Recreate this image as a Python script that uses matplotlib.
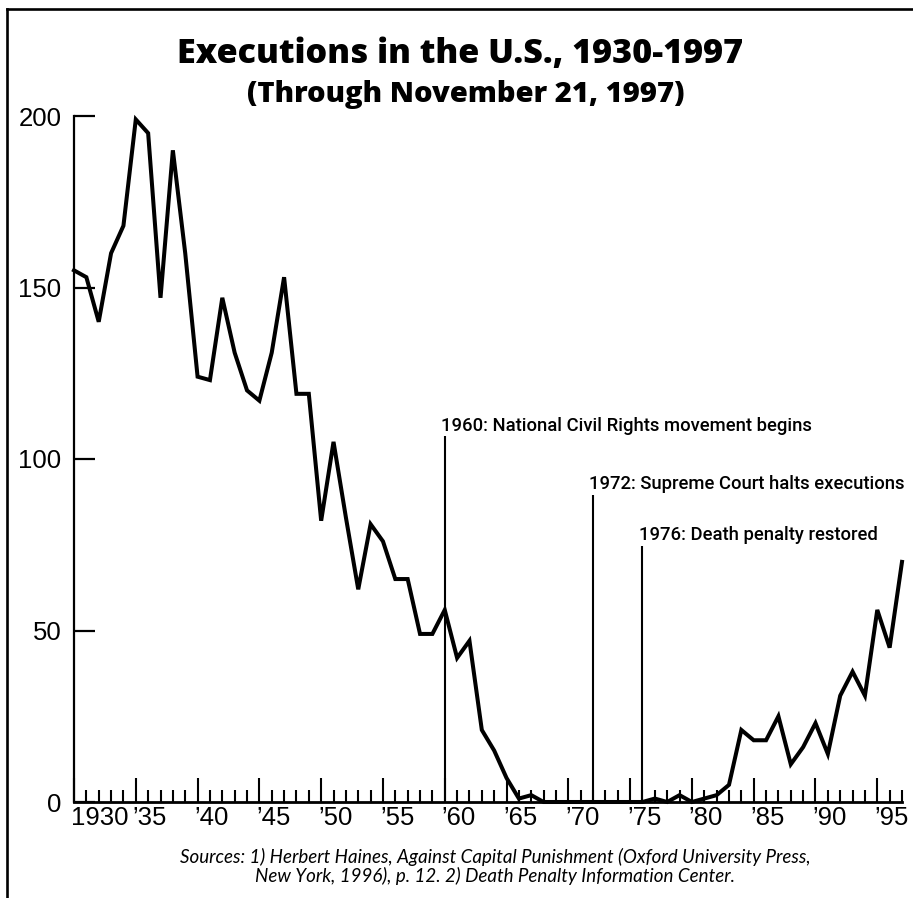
import matplotlib
matplotlib.use("Agg")
import matplotlib.pyplot as plt
import matplotlib.transforms as mtransforms
from matplotlib.lines import Line2D
from matplotlib.ticker import MultipleLocator

# ---------------- data ----------------
years = list(range(1930, 1998))
executions = [155, 153, 140, 160, 168, 199, 195, 147, 190, 160,
              124, 123, 147, 131, 120, 117, 131, 153, 119, 119,
              82, 105, 83, 62, 81, 76, 65, 65, 49, 49,
              56, 42, 47, 21, 15, 7, 1, 2, 0, 0,
              0, 0, 0, 0, 0, 0, 0, 1, 0, 2,
              0, 1, 2, 5, 21, 18, 18, 25, 11, 16,
              23, 14, 31, 38, 31, 56, 45, 70]

xtick_years = [1930, 1935, 1940, 1945, 1950, 1955, 1960, 1965, 1970,
               1975, 1980, 1985, 1990, 1995]
xtick_labels = ["1930", "\u201935", "\u201940", "\u201945", "\u201950", "\u201955",
                "\u201960", "\u201965", "\u201970", "\u201975", "\u201980",
                "\u201985", "\u201990", "\u201995"]
ytick_values = [0, 50, 100, 150, 200]
ytick_labels = ["0", "50", "100", "150", "200"]

event_years = [1960, 1972, 1976]
event_labels = ["1960: National Civil Rights movement begins",
                "1972: Supreme Court halts executions",
                "1976: Death penalty restored"]

title = "Executions in the U.S., 1930-1997"
subtitle = "(Through November 21, 1997)"
source_lines = ["Sources: 1) Herbert Haines, Against Capital Punishment (Oxford University Press,",
                "New York, 1996), p. 12. 2) Death Penalty Information Center."]

# layout (heights of the event marker lines, in data units)
event_line_tops = [106.6, 89.6, 74.7]

# ---------------- figure ----------------
W, H, DPI = 913, 898, 100
fig = plt.figure(figsize=(W / DPI, H / DPI), dpi=DPI)
fig.patch.set_facecolor("white")

left, right, bottom, top = 74 / W, 902 / W, 1 - 802 / H, 1 - 116 / H
ax = fig.add_axes([left, bottom, right - left, top - bottom])
ax.set_facecolor("white")

ax.plot(years, executions, color="black", lw=2.9, solid_joinstyle="miter",
        clip_on=False, zorder=5)

for yr, lab, t in zip(event_years, event_labels, event_line_tops):
    ax.plot([yr, yr], [0, t], color="black", lw=1.5, zorder=4,
            solid_capstyle="butt")
    ax.text(yr - 0.3, t + 1.6, lab, ha="left", va="baseline",
            fontsize=13.35, fontweight="medium",
            family=["Roboto", "DejaVu Sans"], color="black")

ax.set_xlim(1930, 1997)
ax.set_ylim(0, 200)

for s in ["top", "right"]:
    ax.spines[s].set_visible(False)
ax.spines["left"].set_linewidth(1.6)
ax.spines["bottom"].set_linewidth(2.0)

ax.set_xticks(xtick_years)
ax.set_xticklabels(xtick_labels)
ax.xaxis.set_minor_locator(MultipleLocator(1))
ax.set_yticks(ytick_values)
ax.set_yticklabels(ytick_labels)

ax.tick_params(axis="x", which="major", direction="in", length=17, width=1.5,
               pad=3, labelsize=18.5)
ax.tick_params(axis="x", which="minor", direction="in", length=8.5, width=1.5)
ax.tick_params(axis="y", which="major", direction="in", length=15, width=1.6,
               pad=9, labelsize=18.5)

offset = mtransforms.ScaledTranslation(-3 / DPI, 0, fig.dpi_scale_trans)
for lbl in ax.get_xticklabels():
    lbl.set_horizontalalignment("left")
    lbl.set_transform(lbl.get_transform() + offset)
    lbl.set_family(["Liberation Sans", "DejaVu Sans"])
for lbl in ax.get_yticklabels():
    lbl.set_family(["Liberation Sans", "DejaVu Sans"])

# title & subtitle
fig.text(460 / W, 1 - 63 / H, title, ha="center", va="baseline",
         fontsize=24.6, fontweight="heavy", family=["Open Sans", "DejaVu Sans"])
fig.text(466 / W, 1 - 102 / H, subtitle, ha="center", va="baseline",
         fontsize=21, fontweight="heavy", family=["Open Sans", "DejaVu Sans"])

# sources
fig.text(495 / W, 1 - 863 / H, source_lines[0], ha="center", va="baseline",
         fontsize=13.5, style="italic", family=["Lato", "DejaVu Sans"])
fig.text(495 / W, 1 - 882 / H, source_lines[1], ha="center", va="baseline",
         fontsize=13.5, style="italic", family=["Lato", "DejaVu Sans"])

# frame (top and left rules)
fig.add_artist(Line2D([7 / W, 1.0], [1 - 9 / H, 1 - 9 / H], color="black",
                      lw=1.9, transform=fig.transFigure))
fig.add_artist(Line2D([7 / W, 7 / W], [0.0, 1 - 9 / H], color="black",
                      lw=1.9, transform=fig.transFigure))

fig.savefig("out.png", dpi=DPI, facecolor="white")
